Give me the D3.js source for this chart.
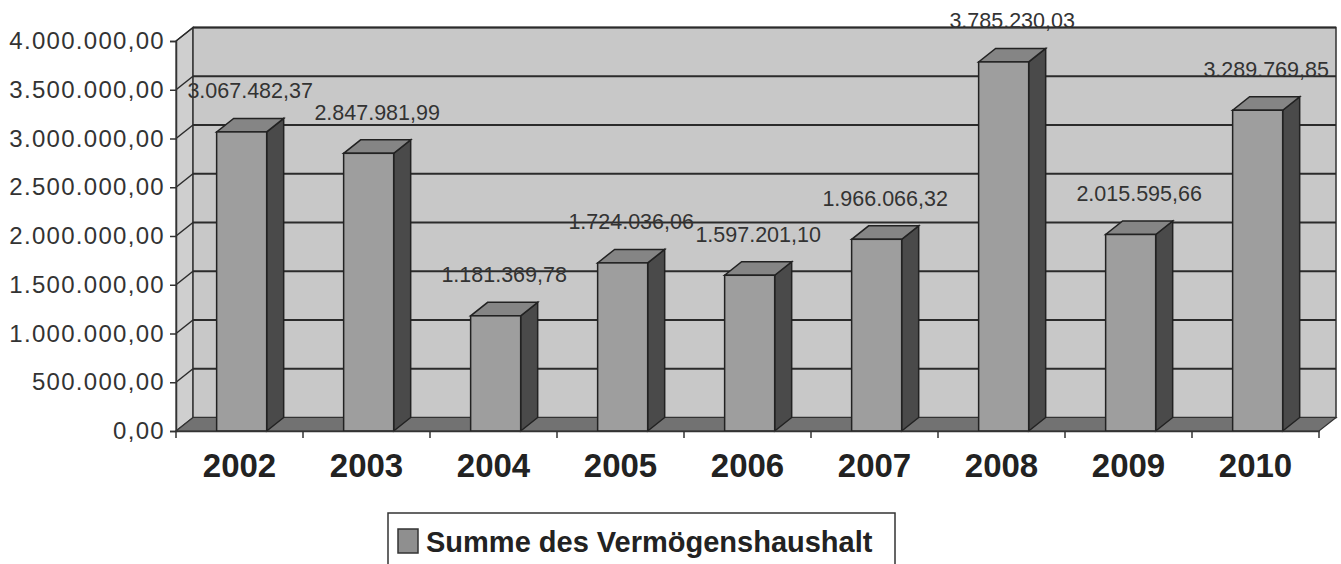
<!DOCTYPE html>
<html lang="de">
<head>
<meta charset="utf-8">
<title>Summe des Vermögenshaushalt</title>
<script src="https://d3js.org/d3.v7.min.js"></script>
<style>
  body { margin: 0; background: #fff; }
  svg { display: block; font-family: Arial, "Liberation Sans", sans-serif; }
</style>
</head>
<body>
<div id="chart"></div>
<script>
// data
var years = ["2002", "2003", "2004", "2005", "2006", "2007", "2008", "2009", "2010"];
var values = [3067482.37, 2847981.99, 1181369.78, 1724036.06, 1597201.10, 1966066.32, 3785230.03, 2015595.66, 3289769.85];
var yTicks = [0, 500000, 1000000, 1500000, 2000000, 2500000, 3000000, 3500000, 4000000];
var seriesName = "Summe des Vermögenshaushalt";

var width = 1341, height = 564;
var plotLeft = 176, plotRight = 1319, plotBottom = 431, plotTop = 41;
var dx = 17, dy = -13.5; // 3d depth offset

var de = d3.formatLocale({decimal: ",", thousands: ".", grouping: [3], currency: ["", " €"]});
var fmt = de.format(",.2f");

var svg = d3.select("#chart").append("svg")
    .attr("width", width)
    .attr("height", height);

var x = d3.scaleBand().domain(years).range([plotLeft, plotRight]).padding(0);
var y = d3.scaleLinear().domain([0, 4000000]).range([plotBottom, plotTop]);

// left wall
svg.append("polygon")
    .attr("points", [[plotLeft, plotBottom], [plotLeft, plotTop], [plotLeft + dx, plotTop + dy], [plotLeft + dx, plotBottom + dy]].join(" "))
    .attr("fill", "#cfcfcf").attr("stroke", "#333").attr("stroke-width", 1.2);

// back wall
svg.append("rect")
    .attr("x", plotLeft + dx).attr("y", plotTop + dy)
    .attr("width", plotRight - plotLeft).attr("height", plotBottom - plotTop)
    .attr("fill", "#c8c8c8").attr("stroke", "#333").attr("stroke-width", 1.5);

// floor
svg.append("polygon")
    .attr("points", [[plotLeft, plotBottom], [plotRight, plotBottom], [plotRight + dx, plotBottom + dy], [plotLeft + dx, plotBottom + dy]].join(" "))
    .attr("fill", "#727272").attr("stroke", "#333").attr("stroke-width", 1.2);

// gridlines on back wall and left wall
var grid = svg.append("g");
yTicks.filter(function(t) { return t > 0; }).forEach(function(t) {
    grid.append("line")
        .attr("x1", plotLeft + dx).attr("x2", plotRight + dx)
        .attr("y1", y(t) + dy).attr("y2", y(t) + dy)
        .attr("stroke", "#2b2b2b").attr("stroke-width", 2);
    grid.append("line")
        .attr("x1", plotLeft).attr("x2", plotLeft + dx)
        .attr("y1", y(t)).attr("y2", y(t) + dy)
        .attr("stroke", "#2b2b2b").attr("stroke-width", 1.5);
});

// bars
var bw = x.bandwidth() * 0.394, boff = x.bandwidth() * 0.32;
var bars = svg.selectAll(".bar").data(years).enter().append("g").attr("class", "bar");
bars.each(function(d, i) {
    var g = d3.select(this);
    var x0 = x(d) + boff, x1 = x0 + bw, yt = y(values[i]);
    g.append("polygon") // side
        .attr("points", [[x1, plotBottom], [x1, yt], [x1 + dx, yt + dy], [x1 + dx, plotBottom + dy]].join(" "))
        .attr("fill", "#4a4a4a").attr("stroke", "#222").attr("stroke-width", 1.5);
    g.append("polygon") // top
        .attr("points", [[x0, yt], [x1, yt], [x1 + dx, yt + dy], [x0 + dx, yt + dy]].join(" "))
        .attr("fill", "#858585").attr("stroke", "#222").attr("stroke-width", 1.5);
    g.append("rect") // front
        .attr("x", x0).attr("y", yt).attr("width", bw).attr("height", plotBottom - yt)
        .attr("fill", "#9e9e9e").attr("stroke", "#222").attr("stroke-width", 1.5);
});

// value labels
svg.selectAll(".val").data(years).enter().append("text")
    .attr("class", "val")
    .attr("x", function(d) { return x(d) + boff + bw / 2 + dx / 2; })
    .attr("y", function(d, i) { return y(values[i]) - 41; })
    .attr("dy", "0.35em")
    .attr("text-anchor", "middle")
    .attr("font-size", 21.5)
    .attr("fill", "#333")
    .text(function(d, i) { return fmt(values[i]); });

// y axis
var yAxis = svg.append("g")
    .attr("transform", "translate(" + plotLeft + ",0)")
    .call(d3.axisLeft(y).tickValues(yTicks).tickFormat(fmt).tickSize(6).tickPadding(5));
yAxis.select(".domain").attr("stroke", "#333").attr("stroke-width", 1.5);
yAxis.selectAll(".tick line").attr("stroke", "#333").attr("stroke-width", 1.5);
yAxis.selectAll(".tick text")
    .attr("font-size", 24).attr("fill", "#333").attr("letter-spacing", 1.3)
    .attr("font-family", "Arial, 'Liberation Sans', sans-serif");

// x axis
var xAxis = svg.append("g")
    .attr("transform", "translate(0," + plotBottom + ")")
    .call(d3.axisBottom(x).tickSize(0).tickPadding(23));
xAxis.select(".domain").attr("stroke", "#333").attr("stroke-width", 1.5);
xAxis.selectAll(".tick text")
    .attr("font-size", 33).attr("font-weight", "bold").attr("fill", "#222")
    .attr("font-family", "Arial, 'Liberation Sans', sans-serif");
// category boundary ticks
xAxis.selectAll(".sep").data(years.concat(["end"])).enter().append("line")
    .attr("x1", function(d, i) { return plotLeft + i * x.bandwidth(); })
    .attr("x2", function(d, i) { return plotLeft + i * x.bandwidth(); })
    .attr("y1", 0).attr("y2", 7)
    .attr("stroke", "#333").attr("stroke-width", 1.5);

// legend
var lg = svg.append("g").attr("transform", "translate(388,513)");
lg.append("rect").attr("x", 0).attr("y", 0).attr("width", 507).attr("height", 60)
    .attr("fill", "#fff").attr("stroke", "#333").attr("stroke-width", 1.5);
lg.append("rect").attr("x", 10).attr("y", 16).attr("width", 20).attr("height", 24)
    .attr("fill", "#8f8f8f").attr("stroke", "#333").attr("stroke-width", 1.5);
lg.append("text").attr("x", 38).attr("y", 39)
    .attr("font-size", 29).attr("font-weight", "bold").attr("fill", "#222")
    .text(seriesName);
</script>
</body>
</html>
